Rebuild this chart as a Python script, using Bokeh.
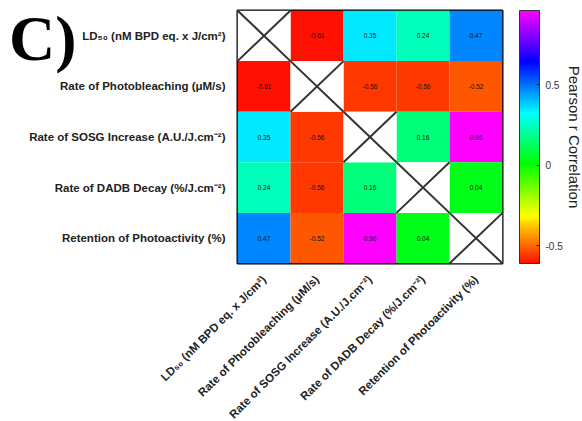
import colorsys
import math
from bokeh.plotting import figure
from bokeh.models import (ColumnDataSource, LinearColorMapper, ColorBar, FixedTicker,
                          Range1d, LinearAxis)
from bokeh.embed import file_html
from bokeh.resources import INLINE
from bokeh.core.properties import value

variables = ["LD₅₀ (nM BPD eq. x J/cm²)",
             "Rate of Photobleaching (μM/s)",
             "Rate of SOSG Increase (A.U./J.cm⁻²)",
             "Rate of DADB Decay (%/J.cm⁻²)",
             "Retention of Photoactivity (%)"]

# Pearson r matrix rows (None = diagonal)
r_ld50 = [None, -0.61, 0.35, 0.24, 0.47]
r_photobleach = [-0.61, None, -0.56, -0.56, -0.52]
r_sosg = [0.35, -0.56, None, 0.16, 0.96]
r_dadb = [0.24, -0.56, 0.16, None, 0.04]
r_retention = [0.47, -0.52, 0.96, 0.04, None]
rows = [r_ld50, r_photobleach, r_sosg, r_dadb, r_retention]

cb_ticks = [-0.5, 0, 0.5]
cb_labels = {-0.5: "-0.5", 0: "0", 0.5: "0.5"}
panel_letter = "C)"

# rainbow palette red -> magenta
palette = []
for i in range(256):
    h = (4.0 + 296.0 * i / 255.0) / 360.0
    r, g, b = colorsys.hsv_to_rgb(h, 1.0, 1.0)
    palette.append("#%02x%02x%02x" % (int(r * 255), int(g * 255), int(b * 255)))

vals_all = [v for row in rows for v in row if v is not None]
mapper = LinearColorMapper(palette=palette, low=min(vals_all), high=max(vals_all))

n = len(variables)
xs, ys, vs, labels = [], [], [], []
dx, dy = [], []
for i, row in enumerate(rows):
    for j, v in enumerate(row):
        if v is None:
            dx.append(j + 0.5)
            dy.append(n - 1 - i + 0.5)
        else:
            xs.append(j + 0.5)
            ys.append(n - 1 - i + 0.5)
            vs.append(v)
            labels.append(f"{v:.2f}")

src = ColumnDataSource(dict(x=xs, y=ys, v=vs, t=labels))
dsrc = ColumnDataSource(dict(x=dx, y=dy,
                             x0=[a - 0.5 for a in dx], x1=[a + 0.5 for a in dx],
                             y0=[b - 0.5 for b in dy], y1=[b + 0.5 for b in dy]))

p = figure(output_backend="svg", toolbar_location=None,
           frame_width=265, frame_height=253,
           x_range=Range1d(0, n), y_range=Range1d(0, n),
           min_border_left=237, min_border_right=72,
           min_border_top=10, min_border_bottom=148)
p.background_fill_color = "white"
p.border_fill_color = "white"
p.grid.visible = False
p.outline_line_color = "black"
p.outline_line_width = 2

p.rect(x="x", y="y", width=1, height=1, source=src,
       fill_color={"field": "v", "transform": mapper}, line_color=None)
p.rect(x="x", y="y", width=1, height=1, source=dsrc, fill_color="white", line_color=None)
p.segment(x0="x0", y0="y0", x1="x1", y1="y1", source=dsrc, line_color="#333333", line_width=2)
p.segment(x0="x0", y0="y1", x1="x1", y1="y0", source=dsrc, line_color="#333333", line_width=2)
p.text(x="x", y="y", text="t", source=src, text_align="center", text_baseline="middle",
       text_font_size="6.5px", text_color="#111111", text_font=value("Liberation Sans"))

centers = [k + 0.5 for k in range(n)]
p.xaxis.ticker = FixedTicker(ticks=centers)
p.xaxis.major_label_overrides = {c: variables[k] for k, c in enumerate(centers)}
p.yaxis.ticker = FixedTicker(ticks=centers)
p.yaxis.major_label_overrides = {c: variables[n - 1 - k] for k, c in enumerate(centers)}
for ax in (p.xaxis, p.yaxis):
    ax.axis_line_color = None
    ax.major_tick_line_color = None
    ax.minor_tick_line_color = None
    ax.major_label_text_font = "Liberation Sans"
    ax.major_label_text_font_style = "bold"
    ax.major_label_text_font_size = "11.5px"
    ax.major_label_text_color = "#222222"
p.yaxis.major_label_standoff = 6
p.xaxis.major_label_standoff = 8
p.xaxis.major_label_orientation = math.pi / 4

# panel letter as the single tick label of a second, empty left axis
p.extra_y_ranges = {"letter": Range1d(0, 1)}
letter_axis = LinearAxis(y_range_name="letter", ticker=FixedTicker(ticks=[0.89]),
                         major_label_overrides={0.89: panel_letter},
                         axis_line_color=None, major_tick_line_color=None,
                         minor_tick_line_color=None,
                         major_label_text_font="Liberation Serif",
                         major_label_text_font_style="bold",
                         major_label_text_font_size="64px",
                         major_label_text_color="black",
                         major_label_standoff=-56)
p.add_layout(letter_axis, "left")

cb = ColorBar(color_mapper=mapper, ticker=FixedTicker(ticks=cb_ticks),
              major_label_overrides=cb_labels, width=20, height=253,
              margin=0, padding=0, location=(17, 0),
              bar_line_color="#333333", bar_line_width=1,
              major_tick_line_color="#222222", major_tick_in=3, major_tick_out=0,
              major_label_text_font="Liberation Sans", major_label_text_font_size="10px",
              major_label_text_color="#333333", label_standoff=6,
              background_fill_color=None)
p.add_layout(cb, "right")

# colour bar title as the label of an empty right-hand axis
title_axis = LinearAxis(ticker=FixedTicker(ticks=[]), axis_label="Pearson r Correlation",
                        axis_line_color=None, major_tick_line_color=None,
                        minor_tick_line_color=None, major_label_text_font_size="0px",
                        axis_label_text_font="Liberation Sans",
                        axis_label_text_font_style="normal",
                        axis_label_text_font_size="15px",
                        axis_label_text_color="#222222", axis_label_standoff=0)
p.add_layout(title_axis, "right")

open("out.html", "w").write(file_html(p, INLINE))
